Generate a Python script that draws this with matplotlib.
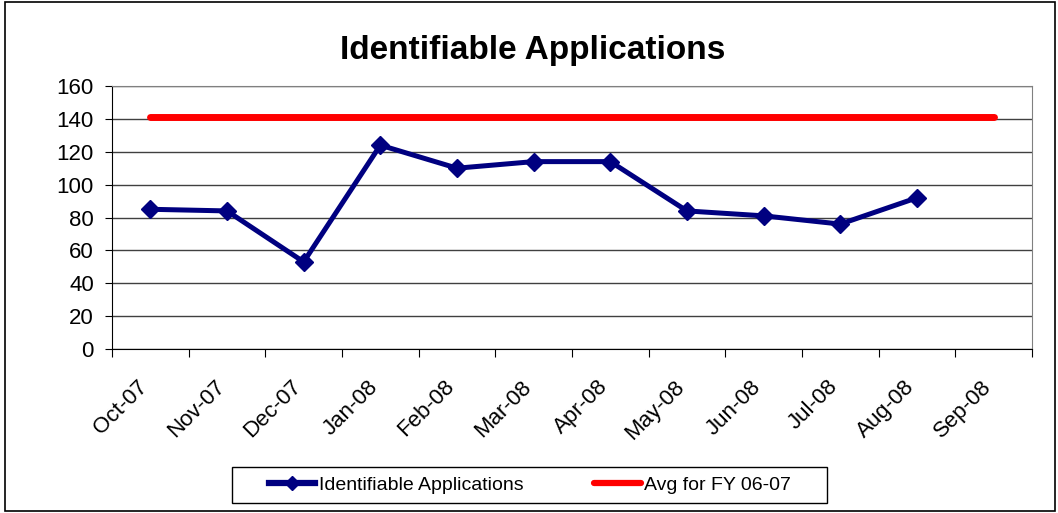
import numpy as np
import matplotlib.pyplot as plt
import matplotlib.transforms as mtransforms

plt.rcParams['font.family'] = ['Liberation Sans', 'DejaVu Sans']

meses = ['Oct-07', 'Nov-07', 'Dec-07', 'Jan-08', 'Feb-08', 'Mar-08',
         'Apr-08', 'May-08', 'Jun-08', 'Jul-08', 'Aug-08', 'Sep-08']
aplicaciones = [85, 84, 53, 124, 110, 114, 114, 84, 81, 76, 92]
promedio = [141] * 12

W, H = 1058, 513
fig = plt.figure(figsize=(W/100, H/100), dpi=100)
ax = fig.add_axes([112/W, 1 - 349/H, 920/W, 263/H])

x = np.arange(len(meses))
ax.plot(x[:len(aplicaciones)], aplicaciones, color='#000080', lw=3.6,
        marker='D', ms=9.5, label='Identifiable Applications', zorder=3)
ax.plot(x, promedio, color='#ff0000', lw=5, solid_capstyle='round',
        label='Avg for FY 06-07', zorder=3)

ax.set_xlim(-0.5, len(meses) - 0.5)
ax.set_ylim(0, 160)
ax.set_yticks(range(0, 161, 20))
ax.tick_params(axis='y', labelsize=16, length=5, direction='out', pad=8)
ax.yaxis.grid(True, color='#404040', lw=1)
ax.set_axisbelow(True)

# marcas en los limites de categoria, etiquetas en el centro
ax.set_xticks(np.arange(-0.5, len(meses)), minor=False)
ax.set_xticklabels([])
ax.set_xticks(x, minor=True)
ax.set_xticklabels(meses, minor=True, rotation=45, ha='right', va='center',
                   rotation_mode='anchor', fontsize=16)
ax.tick_params(axis='x', which='major', length=6, direction='out')
ax.tick_params(axis='x', which='minor', length=0, pad=25)
desplaz = mtransforms.ScaledTranslation(-4/72, 0, fig.dpi_scale_trans)
for lbl in ax.get_xticklabels(minor=True):
    lbl.set_transform(lbl.get_transform() + desplaz)

for s in ['top', 'right']:
    ax.spines[s].set_color('#808080')
for s in ['left', 'bottom']:
    ax.spines[s].set_color('black')

fig.text(533/W, 1 - 50/H, 'Identifiable Applications', ha='center',
         va='center', fontsize=24, fontweight='bold')

leg = fig.legend(loc='center', bbox_to_anchor=(530/W, 1 - 485/H),
                 ncol=2, fontsize=14, frameon=False, handlelength=2.4,
                 columnspacing=3.6, handletextpad=0.2)
for h in leg.legend_handles:
    h.set_linewidth(4.5)
leg.legend_handles[0].set_markersize(7)

fig.patches.append(plt.Rectangle((232/W, 1 - 503/H), 595/W, 36/H,
                                 transform=fig.transFigure, fill=False,
                                 edgecolor='black', lw=1))
fig.patches.append(plt.Rectangle((5/W, 2/H), 1050/W, 509/H,
                                 transform=fig.transFigure, fill=False,
                                 edgecolor='black', lw=1.2))

fig.savefig('out.png', dpi=100)
